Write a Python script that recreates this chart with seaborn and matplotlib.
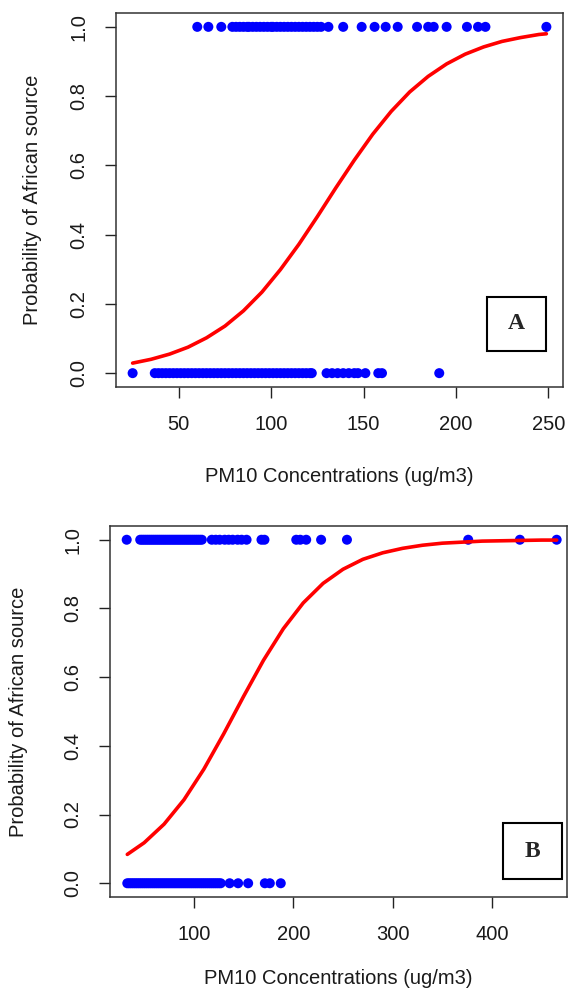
import numpy as np
import pandas as pd
import matplotlib
matplotlib.use("Agg")
import matplotlib.pyplot as plt
from matplotlib.patches import Rectangle
import seaborn as sns

# ---- panel A data ----
a_x_yes = [60, 66, 73, 79, 81, 83, 85, 87, 88, 90, 92, 94, 96, 98, 100, 101, 103,
           105, 107, 109, 111, 113, 115, 117, 119, 121, 123, 125, 127, 131, 139,
           149, 156, 162, 168.5, 179, 185, 188, 195, 206, 212, 216, 249]
a_x_no = [25, 37, 39, 41, 43, 45, 47, 49, 51, 53, 55, 57, 59, 61, 63, 65, 67, 69,
          71, 73, 75, 77, 79, 81, 83, 85, 87, 89, 91, 93, 95, 97, 99, 101, 103,
          105, 107, 109, 111, 113, 115, 117, 119, 121, 122, 130, 133, 136, 139,
          142, 145, 147, 151, 158, 160, 191]
a_curve_x = [25, 35, 45, 55, 65, 75, 85, 95, 105, 115, 125, 135, 145, 155, 165,
             175, 185, 195, 205, 215, 225, 235, 245, 249]
a_curve_p = [0.029, 0.040, 0.055, 0.075, 0.102, 0.136, 0.180, 0.234, 0.299, 0.372,
             0.452, 0.535, 0.615, 0.690, 0.756, 0.812, 0.857, 0.893, 0.921, 0.942,
             0.958, 0.969, 0.978, 0.980]

# ---- panel B data ----
b_x_yes = [32.4, 46, 48, 50, 52, 54, 56, 58, 60, 62, 64, 66, 68, 70, 72, 74, 76,
           78, 80, 82, 84, 86, 88, 90, 92, 94, 96, 98, 100, 102, 104, 106, 108,
           118, 122, 126, 131, 135, 139, 144, 148, 153, 168, 171, 203, 207, 213,
           228, 254, 376, 428, 465]
b_x_no = [33, 35, 37, 39, 41, 43, 45, 47, 49, 51, 53, 55, 57, 59, 61, 63, 65, 67,
          69, 71, 73, 75, 77, 79, 81, 83, 85, 87, 89, 91, 93, 95, 97, 99, 101, 103,
          105, 107, 109, 111, 113, 115, 117, 119, 121, 123, 125, 127, 136, 144.5,
          154.6, 171.4, 176.4, 187.4]
b_curve_x = [33, 50, 70, 90, 110, 130, 150, 170, 190, 210, 230, 250, 270, 290, 310,
             330, 350, 370, 390, 410, 430, 450, 465]
b_curve_p = [0.084, 0.118, 0.172, 0.243, 0.332, 0.435, 0.544, 0.649, 0.741, 0.816,
             0.873, 0.914, 0.943, 0.962, 0.975, 0.984, 0.990, 0.993, 0.996, 0.997,
             0.998, 0.999, 0.999]

y_ticks = [0.0, 0.2, 0.4, 0.6, 0.8, 1.0]
y_tick_labels = ["0.0", "0.2", "0.4", "0.6", "0.8", "1.0"]
a_x_ticks = [50, 100, 150, 200, 250]
b_x_ticks = [100, 200, 300, 400]
xlab = "PM10 Concentrations (ug/m3)"
ylab = "Probability of African source"

sns.set_theme(style="ticks")
plt.rcParams["font.family"] = ["Liberation Sans", "DejaVu Sans"]

fig = plt.figure(figsize=(5.75, 9.93), dpi=100)
ax_a = fig.add_axes([116 / 575, 1 - 387 / 993, 447 / 575, 374 / 993])
ax_b = fig.add_axes([110 / 575, 1 - 897 / 993, 457 / 575, 371 / 993])


def draw_panel(ax, x_yes, x_no, cx, cp, xlim, xticks, letter, box, xlab_y, ylab_x):
    pts = pd.DataFrame({"x": list(x_yes) + list(x_no),
                        "y": [1.0] * len(x_yes) + [0.0] * len(x_no)})
    sns.scatterplot(data=pts, x="x", y="y", ax=ax, color="#0000FF", s=52,
                    edgecolor="none", zorder=3)
    curve = pd.DataFrame({"x": cx, "p": cp})
    sns.lineplot(data=curve, x="x", y="p", ax=ax, color="#FF0000", lw=2.6,
                 zorder=4, sort=True)

    ax.set_xlim(*xlim)
    ax.set_ylim(-0.04, 1.04)
    ax.set_xticks(xticks)
    ax.set_xticklabels([str(t) for t in xticks])
    ax.set_yticks(y_ticks)
    ax.set_yticklabels(y_tick_labels, rotation=90, va="center")
    ax.tick_params(axis="both", direction="out", length=8, width=1.0,
                   color="#222222", labelsize=14.5, pad=12, labelcolor="#1a1a1a")
    for sp in ax.spines.values():
        sp.set_visible(True)
        sp.set_color("#333333")
        sp.set_linewidth(1.1)

    ax.set_xlabel(xlab, fontsize=14.5, color="#1a1a1a")
    ax.set_ylabel(ylab, fontsize=14.5, color="#1a1a1a")
    ax.xaxis.set_label_coords(0.5, xlab_y)
    ax.xaxis.label.set_va("center")
    ax.yaxis.set_label_coords(ylab_x, 0.5)
    ax.yaxis.label.set_va("center")

    x0, y0, x1, y1 = box
    ax.add_patch(Rectangle((x0, y0), x1 - x0, y1 - y0, transform=ax.transAxes,
                           fill=True, facecolor="white", edgecolor="black",
                           lw=1.5, zorder=5))
    ax.text((x0 + x1) / 2, (y0 + y1) / 2, letter, transform=ax.transAxes,
            ha="center", va="center", fontsize=17, fontweight="bold",
            family=["Liberation Serif", "DejaVu Serif"], zorder=6)


draw_panel(ax_a, a_x_yes, a_x_no, a_curve_x, a_curve_p, (16.0, 258.0), a_x_ticks,
           "A", (0.830, 0.096, 0.962, 0.241), -0.238, -0.186)
draw_panel(ax_b, b_x_yes, b_x_no, b_curve_x, b_curve_p, (15.6, 475.4), b_x_ticks,
           "B", (0.860, 0.0485, 0.989, 0.199), -0.221, -0.201)

fig.savefig("out.png", dpi=100)
